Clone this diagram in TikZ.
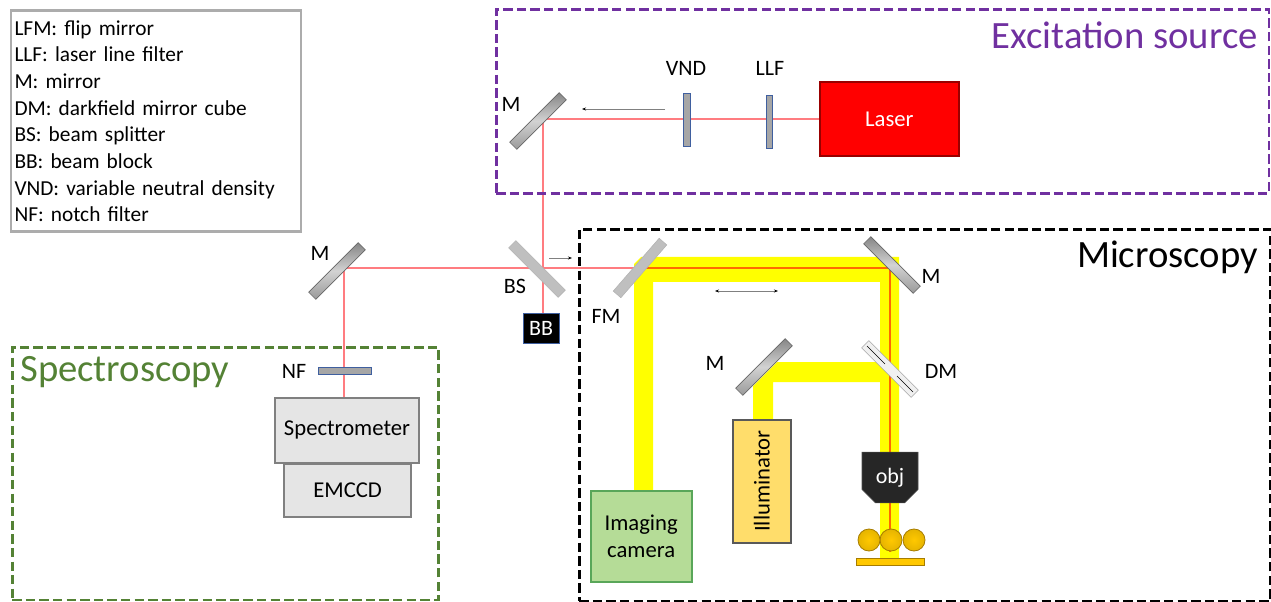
\documentclass[tikz,border=0pt]{standalone}
\usepackage{fontspec}
\setmainfont{Carlito}
\usetikzlibrary{positioning, arrows.meta, backgrounds, shapes.misc}
\definecolor{exccol}{HTML}{7030A0}
\definecolor{speccol}{HTML}{548235}
\definecolor{beamcol}{HTML}{FF7C80}
\definecolor{mixcol}{HTML}{FF6A00}
\definecolor{filtcol}{HTML}{A6A6A6}
\definecolor{filtedge}{HTML}{3F5F9F}
\definecolor{lampcol}{HTML}{FFFF00}
\definecolor{lasercol}{HTML}{FF0000}
\definecolor{camcol}{HTML}{B5DC97}
\definecolor{illumcol}{HTML}{FFDD6B}
\definecolor{goldcol}{HTML}{FFC800}
\definecolor{goldedge}{HTML}{A67C00}

\begin{document}
\begin{tikzpicture}[
    x=0.75pt, y=-0.75pt,
    node distance=0.15cm,
    lbl/.style={font=\fontsize{16.5}{20}\selectfont, inner sep=0pt},
    title/.style={font=\fontsize{29}{34}\selectfont, inner sep=0pt},
    zone/.style={draw, dashed, line width=1.9pt, dash pattern=on 7pt off 3.2pt, anchor=north west, inner sep=0pt},
    mirror/.style={draw=gray!80!black, line width=0.5pt, minimum width=52.5pt, minimum height=7.6pt, inner sep=0pt, top color=gray!95, bottom color=gray!80, middle color=gray!35},
    splitter/.style={draw=gray!60, fill=gray!50, line width=0.4pt, minimum width=52.5pt, minimum height=7.6pt, inner sep=0pt},
    dichroic/.style={draw=gray!70, fill=gray!12, line width=0.4pt, minimum width=52.5pt, minimum height=7.6pt, inner sep=0pt},
    filt/.style={draw=filtedge, fill=filtcol, line width=0.7pt, minimum width=5pt, minimum height=40pt, inner sep=0pt},
    unit/.style={draw=gray, fill=gray!20, line width=1.5pt, font=\fontsize{17}{20.5}\selectfont, anchor=north west, inner sep=0pt},
    beam/.style={draw=beamcol, line width=2pt},
    mixbeam/.style={draw=mixcol, line width=2pt},
    lamp/.style={fill=lampcol},
    motion/.style={gray, line width=0.5pt, {Stealth[length=3pt, black]}-{Stealth[length=3pt, black]}},
    motionone/.style={gray, line width=0.5pt, -{Stealth[length=3pt, black]}},
    goldball/.style={circle, draw=goldedge, line width=0.6pt, minimum size=16.5pt, inner sep=0pt, inner color=goldcol, outer color=goldcol!90!black},
  ]
    \useasboundingbox (0,0) rectangle (1271,602);

    % Legend
    \node[draw=gray!65, line width=2pt, anchor=north west, align=left, minimum width=217.5pt, minimum height=165.7pt, text width=212pt, inner sep=0pt, font=\fontsize{16}{20}\selectfont] (legend) at (9.5,9.5) {LFM: flip mirror\\LLF: laser line filter\\M: mirror\\DM: darkfield mirror cube\\BS: beam splitter\\BB: beam block\\VND: variable neutral density\\NF: notch filter\\[3pt]};

    % Excitation source
    \node[unit, draw=red!60!black, fill=lasercol, text=white, minimum width=104pt, minimum height=55.5pt] (laser) at (819,81) {Laser};
    \node[filt] (llf) at (769.5,122) {};
    \node[filt] (vnd) at (687,120) {};
    \node[mirror, rotate=45] (mtop) at (538,121) {};
    \node[lbl] (llflbl) at (770,68) {LLF};
    \node[lbl] (vndlbl) at (686,68) {VND};
    \node[lbl] (mtoplbl) at (511,104) {M};
    \coordinate (turntop) at (543,0 |- laser.west);

    % Beam splitter and block
    \node[splitter, rotate=-45] (bs) at (537,269) {};
    \node[lbl] (bslbl) at (515,286) {BS};
    \node[draw=filtedge, fill=black, text=white, line width=0.4pt, minimum width=27pt, minimum height=22.5pt, inner sep=0pt, font=\fontsize{16.5}{20}\selectfont] (bb) at (541,328) {BB};

    % Spectroscopy
    \node[mirror, rotate=45] (mspec) at (337,271) {};
    \node[lbl] (mspeclbl) at (320,253) {M};
    \coordinate (turnspec) at (344,268);
    \node[filt, minimum width=40pt, minimum height=5pt] (nf) at (345,371) {};
    \node[lbl, left=0.3cm of nf] {NF};
    \node[unit, minimum width=108pt, minimum height=49pt] (spectro) at (274,396.5) {Spectrometer};
    \node[unit, minimum width=95.5pt, minimum height=40pt] (emccd) at (283,462.5) {EMCCD};

    % Microscopy
    \node[splitter, rotate=49] (fm) at (640,268) {};
    \node[lbl] (fmlbl) at (606,316) {FM};
    \node[mirror, rotate=-45] (mright) at (892,265) {};
    \node[lbl] (mrightlbl) at (931,276) {M};
    \node[dichroic, rotate=-45] (dm) at (890,369) {};
    \node[lbl] (dmlbl) at (941,371) {DM};
    \node[mirror, rotate=45] (mleft) at (764,367) {};
    \node[lbl] (mleftlbl) at (715,363) {M};
    \node[unit, draw=gray!70!green, fill=camcol, minimum width=76pt, minimum height=68pt, align=center] (camera) at (589.5,490) {Imaging\\camera};
    \node[unit, draw=gray!70!black, fill=illumcol, minimum width=44pt, minimum height=92.5pt] (illum) at (731.5,418.5) {\rotatebox{90}{Illuminator}};
    \node[chamfered rectangle, chamfered rectangle corners={south east, south west}, chamfered rectangle xsep=5pt, chamfered rectangle ysep=5pt, draw=black!70, fill=black!85, text=white, minimum width=42pt, minimum height=38pt, inner sep=0pt, font=\fontsize{16.5}{20}\selectfont] (obj) at (890,477.5) {obj};
    \node[goldball] (ballb) at (891,540) {};
    \node[goldball] (balla) at (869,540) {};
    \node[goldball] (ballc) at (914,540) {};
    \node[draw=goldedge, fill=goldcol, line width=0.5pt, minimum width=51pt, minimum height=5.5pt, inner sep=0pt] (plate) at (890.5,562) {};
    \coordinate (turnfm) at (890,268);
    \coordinate (sample) at (890,552);

    % Dark slits of the mirror cube
    \draw[black, line width=0.4pt] (867,346) -- (885,364) (897,376) -- (913,392);

    % Zones, white light and laser paths
    \begin{scope}[on background layer]
      \fill[lamp] (634,490) -- (634,264) -- (641,257) -- (899,257) -- (899,558) -- (880,558) -- (880,282) -- (653,282) -- (653,490) -- cycle;
      \fill[lamp] (753,419) -- (753,386) -- (777,362) -- (885,362) -- (885,382) -- (773,382) -- (773,419) -- cycle;
      \draw[beam] (laser.west) -- (turntop) -- (bb.north -| turntop);
      \draw[beam] (fm.center) -| (turnspec) -- (spectro.north -| turnspec);
      \draw[mixbeam] (fm.center) -- (turnfm) -- (sample);
      \node[zone, draw=exccol, minimum width=579.7pt, minimum height=138pt] (excbox) at (495,8) {};
      \node[zone, draw=black, minimum width=518.2pt, minimum height=279pt] (micbox) at (578,228) {};
      \node[zone, draw=speccol, minimum width=319.5pt, minimum height=189.7pt] (specbox) at (11,346) {};
    \end{scope}

    % Titles
    \node[title, text=exccol, anchor=east] (exctitle) at (1258,35) {Excitation source};
    \node[title, anchor=east] (mictitle) at (1258,257) {Microscopy};
    \node[title, text=speccol, anchor=west] (spectitle) at (20,372) {Spectroscopy};

    % Motion arrows
    \coordinate (arra) at (665,109);
    \coordinate (arrb) at (582,109);
    \draw[motionone] (arra) -- (arrb);
    \coordinate (arrc) at (549,258);
    \coordinate (arrd) at (572,258);
    \draw[motionone] (arrc) -- (arrd);
    \coordinate (arre) at (715,291);
    \coordinate (arrf) at (778,291);
    \draw[motion] (arre) -- (arrf);
  \end{tikzpicture}
\end{document}
